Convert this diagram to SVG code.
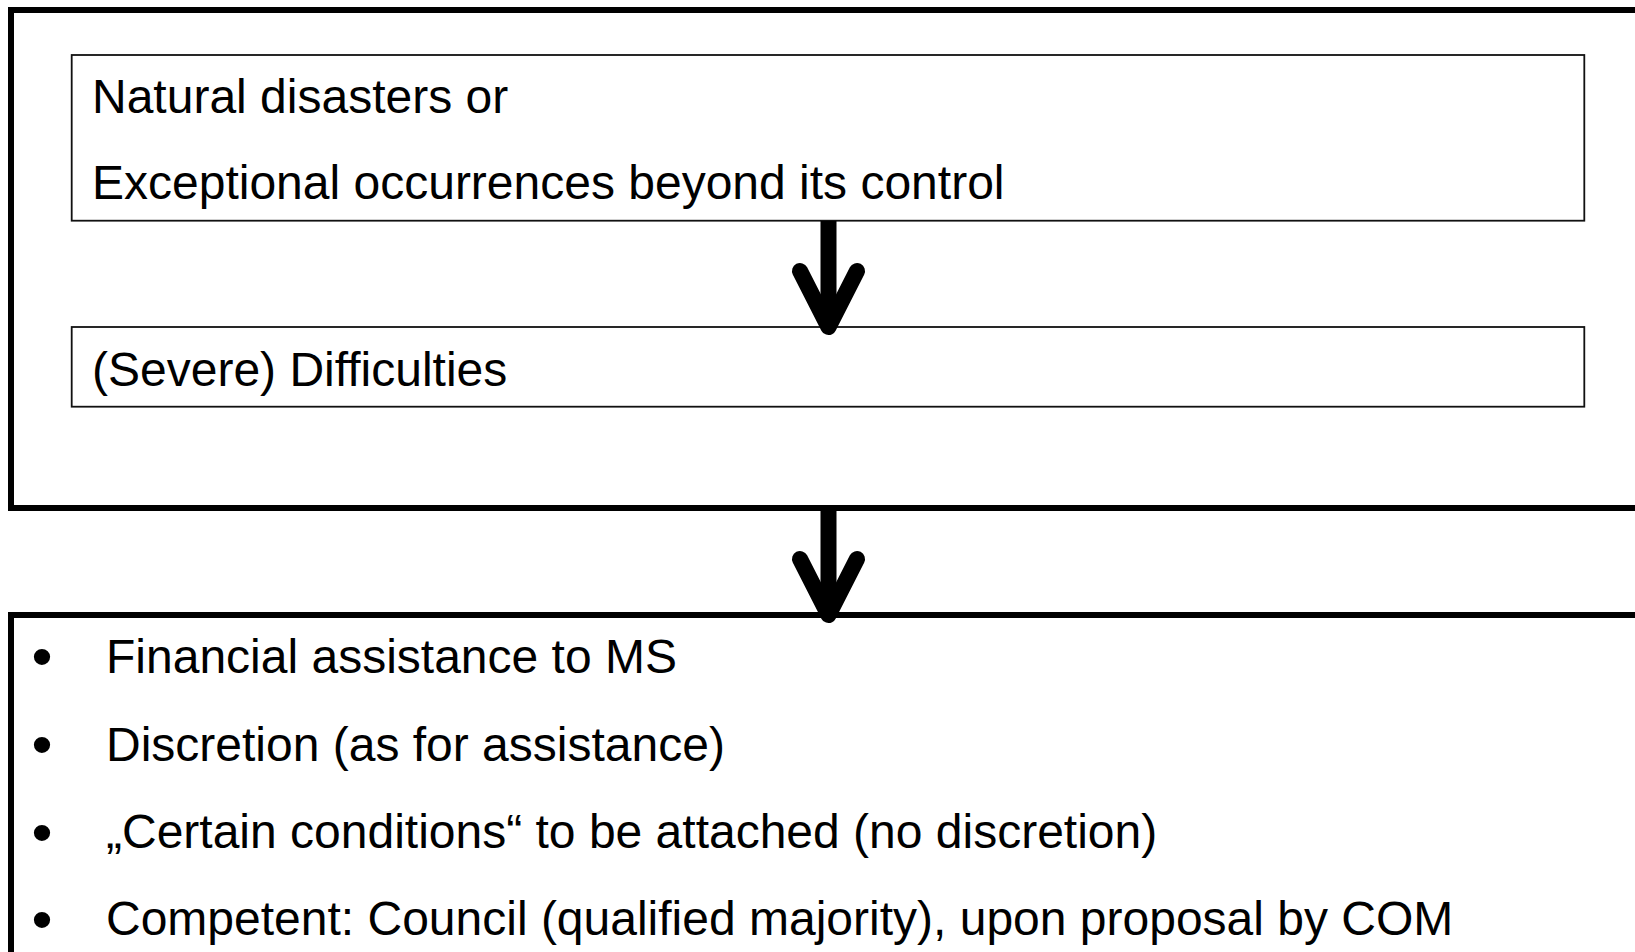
<svg xmlns="http://www.w3.org/2000/svg" width="1635" height="952" viewBox="0 0 1635 952">
<style>
.outer{fill:none;stroke:#000;stroke-width:6}
.inner{fill:#fff;stroke:#111;stroke-width:1.8}
.t{font-family:"Liberation Sans",Arial,sans-serif;font-size:48px;fill:#000}
.b{font-family:"Liberation Sans",Arial,sans-serif;font-size:60px;fill:#000;text-anchor:middle}
.shaft{fill:none;stroke:#000;stroke-width:16;stroke-linecap:butt}
.head{fill:none;stroke:#000;stroke-width:16;stroke-linecap:round;stroke-linejoin:round}
</style>
<rect width="1635" height="952" fill="#fff"/>
<g id="frame-top">
<rect class="outer" x="11" y="10" width="1640" height="498"/>
</g>
<g id="node-causes">
<rect class="inner" x="71.7" y="55" width="1512.6" height="165.7"/>
<text class="t" x="92" y="113">Natural disasters or</text>
<text class="t" x="92" y="199">Exceptional occurrences beyond its control</text>
</g>
<g id="node-difficulties">
<rect class="inner" x="71.7" y="327" width="1512.6" height="79.7"/>
<text class="t" x="92" y="386">(Severe) Difficulties</text>
</g>
<g id="node-consequences">
<rect class="outer" x="11" y="615" width="1640" height="350"/>
<text class="b" x="42" y="676.5">•</text>
<text class="t" x="106" y="672.5">Financial assistance to MS</text>
<text class="b" x="42" y="764.5">•</text>
<text class="t" x="106" y="760.5">Discretion (as for assistance)</text>
<text class="b" x="42" y="852.5">•</text>
<text class="t" x="106" y="848">„Certain conditions“ to be attached (no discretion)</text>
<text class="b" x="42" y="940">•</text>
<text class="t" x="106" y="935">Competent: Council (qualified majority), upon proposal by COM</text>
</g>
<g id="connectors">
<path class="shaft" d="M828.5,221 V327"/>
<path class="head" d="M800,271 L828.5,327 L857,271"/>
<path class="shaft" d="M828.5,511 V615"/>
<path class="head" d="M800,559 L828.5,615 L857,559"/>
</g>
</svg>
